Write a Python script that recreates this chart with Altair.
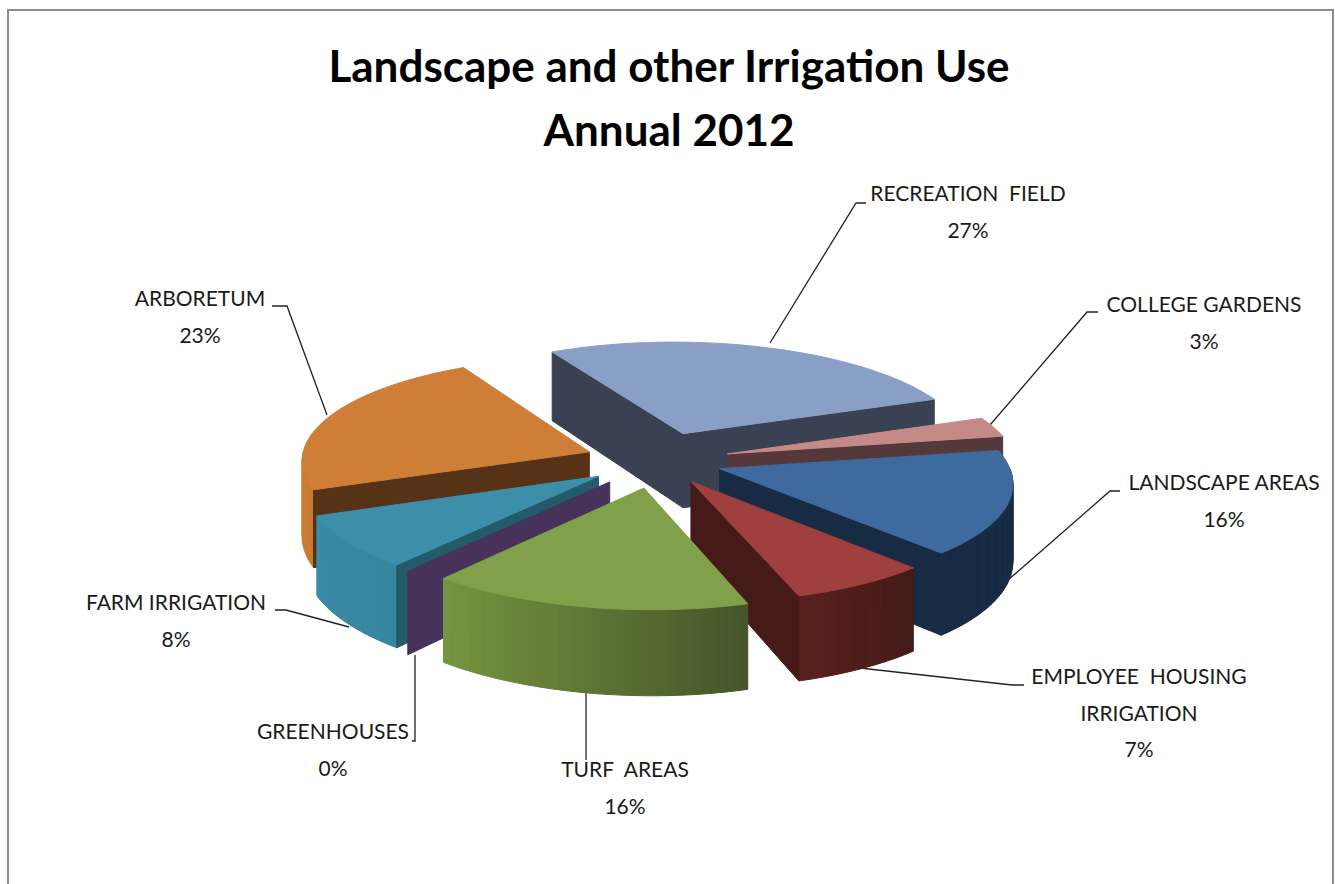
import math
import altair as alt

# Chart content
title_lines = ["Landscape and other Irrigation Use", "Annual 2012"]
shares = [27, 3, 16, 7, 16, 0, 8, 23]
label_lines = [["RECREATION\u00a0\u00a0FIELD"], ["COLLEGE GARDENS"], ["LANDSCAPE AREAS"],
               ["EMPLOYEE\u00a0\u00a0HOUSING", "IRRIGATION"], ["TURF\u00a0\u00a0AREAS"], ["GREENHOUSES"],
               ["FARM IRRIGATION"], ["ARBORETUM"]]

# Slice colours: top face, radial wall, outer wall at its left and right ends
top_colors = ["#8a9fc6", "#c48a88", "#3f6a9e", "#a0403e", "#80a049", "#46325a", "#3d8fa9", "#ce7e36"]
side_colors = ["#3a4152", "#54383a", "#182b44", "#451a18", "#46552a", "#46325a", "#245b6a", "#563216"]
rim_left = ["#3a4152", "#54383a", "#182b44", "#5a211e", "#76953f", "#46325a", "#3a8ba5", "#cd7d35"]
rim_right = ["#3a4152", "#54383a", "#182b44", "#451a18", "#46552a", "#46325a", "#37859e", "#c8782f"]

# How far each slice is pulled out of the pie
explode = [80, 72, 63, 62, 72, 72, 70, 70]

# Back-to-front painting order of the slices
paint_order = [0, 1, 7, 2, 6, 5, 3, 4]

# Pie geometry
CX, CY = 657, 537
RADIUS = 280
THICKNESS = 76
TILT = 0.4
PERSPECTIVE = 0.1
X_STRETCH = 1.03
SHEAR = 0.03
START_ANGLE = 332


def project(x, y, z):
    w = 1 - PERSPECTIVE * y / 300
    return [CX + (x * X_STRETCH + SHEAR * y) / w, CY + (TILT * y - z) / w]


def polar(angle, r, ox=0, oy=0):
    a = math.radians(angle)
    return ox + r * math.sin(a), oy - r * math.cos(a)


def mix(c1, c2, t):
    a = [int(c1[i:i + 2], 16) for i in (1, 3, 5)]
    b = [int(c2[i:i + 2], 16) for i in (1, 3, 5)]
    return "#" + "".join(f"{round(p + (q - p) * t):02x}" for p, q in zip(a, b))


def feature(ring, fill):
    return {"type": "Feature", "properties": {"fill": fill},
            "geometry": {"type": "Polygon", "coordinates": [ring + [ring[0]]]}}


def wall(p, q, fill):
    return feature([project(*p, THICKNESS), project(*q, THICKNESS), project(*q, 0), project(*p, 0)], fill)


def slice_faces(i, a, b):
    mid = (a + b) / 2
    ox, oy = polar(mid, explode[i])
    apex = (ox, oy)
    steps = max(1, math.ceil((b - a) / 1.5))
    angles = [a + (b - a) * k / steps for k in range(steps + 1)]
    rim = [polar(t, RADIUS, ox, oy) for t in angles]
    faces = []
    # Outer curved wall, as thin strips shaded from left to right
    if b > a:
        visible = [k for k in range(steps) if -math.cos(math.radians((angles[k] + angles[k + 1]) / 2)) > 0]
        if visible:
            xs = [project(*rim[k], 0)[0] for k in visible] + [project(*rim[visible[-1] + 1], 0)[0]]
            lo, hi = min(xs), max(xs)
            for k in visible:
                t = (project(*rim[k], 0)[0] - lo) / max(hi - lo, 1)
                faces.append(wall(rim[k], rim[k + 1], mix(rim_left[i], rim_right[i], t)))
    # Radial walls that face the viewer
    if math.sin(math.radians(a)) < 0:
        faces.append(wall(apex, rim[0], side_colors[i]))
    if math.sin(math.radians(b)) > 0:
        faces.append(wall(apex, rim[-1], side_colors[i]))
    # Top face
    if b > a:
        faces.append(feature([project(*apex, THICKNESS)] + [project(*pt, THICKNESS) for pt in rim], top_colors[i]))
    return faces


bounds = []
angle = START_ANGLE
for share in shares:
    bounds.append((angle, angle + share * 3.6))
    angle += share * 3.6

features = []
for i in paint_order:
    features.extend(slice_faces(i, *bounds[i]))

pie = alt.Chart(alt.InlineData(
    values={"type": "FeatureCollection", "features": features},
    format=alt.DataFormat(property="features", type="json"),
)).mark_geoshape(strokeWidth=1).encode(
    fill=alt.Fill("properties.fill:N", scale=None),
    stroke=alt.Stroke("properties.fill:N", scale=None),
).project(type="identity", scale=1, translate=[0, 0])

# Page-pixel scales for annotations
x_px = alt.X("x:Q", scale=alt.Scale(domain=[0, 1335], range=[0, 1335]), axis=None)
y_px = alt.Y("y:Q", scale=alt.Scale(domain=[0, 884], range=[0, 884]), axis=None)

# Label layout
label_x = [968, 1204, 1224, 1139, 625, 333, 176, 200]
label_y = [195, 306, 484, 678, 771, 733, 604, 300]
LINE_STEP = 36.5

label_rows = []
for cx, cy, lines, share in zip(label_x, label_y, label_lines, shares):
    for n, text in enumerate(lines + [f"{share}%"]):
        label_rows.append({"x": cx, "y": cy + n * LINE_STEP, "text": text})

labels = alt.Chart(alt.Data(values=label_rows)).mark_text(
    font="Lato", fontSize=21, color="#1a1a1a", align="center", baseline="middle"
).encode(x=x_px, y=y_px, text="text:N")

title_rows = [{"x": 669, "y": 69, "text": title_lines[0]}, {"x": 669, "y": 133, "text": title_lines[1]}]
title = alt.Chart(alt.Data(values=title_rows)).mark_text(
    font="Lato", fontWeight="bold", fontSize=44, color="#000000", align="center", baseline="middle"
).encode(x=x_px, y=y_px, text="text:N")

# Leader lines from each slice to its label
leaders = [
    [(770, 343), (856, 203), (866, 203)],
    [(990, 425), (1087, 312), (1098, 312)],
    [(1008, 580), (1110, 491), (1120, 491)],
    [(860, 668), (1012, 685), (1024, 685)],
    [(586, 690), (586, 760)],
    [(415, 655), (415, 741), (412, 741)],
    [(349, 627), (286, 610), (275, 610)],
    [(327, 415), (287, 306), (272, 306)],
]
leader_rows = [{"x": x, "y": y, "id": k, "seq": n}
               for k, path in enumerate(leaders) for n, (x, y) in enumerate(path)]
leader_lines = alt.Chart(alt.Data(values=leader_rows)).mark_line(color="#222222", strokeWidth=1.3).encode(
    x=x_px, y=y_px, detail="id:N", order="seq:Q"
)

# Chart frame, open at the bottom
frame_rows = [{"x": 8, "y": 884, "seq": 0}, {"x": 8, "y": 10, "seq": 1},
              {"x": 1333, "y": 10, "seq": 2}, {"x": 1333, "y": 884, "seq": 3}]
frame = alt.Chart(alt.Data(values=frame_rows)).mark_line(color="#8c8c8c", strokeWidth=2).encode(
    x=x_px, y=y_px, order="seq:Q"
)

chart = alt.layer(frame, leader_lines, pie, labels, title).properties(
    width=1335, height=884, padding=0, background="white",
    autosize=alt.AutoSizeParams(type="none"),
).configure_view(stroke=None)

chart.save("out.html", embed_options={"renderer": "svg", "actions": False})
